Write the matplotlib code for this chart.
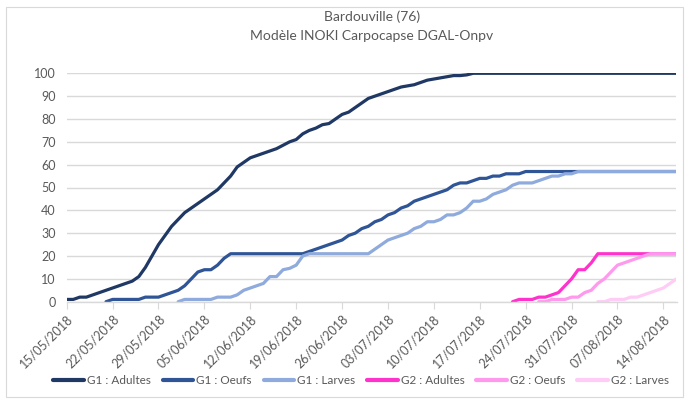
import matplotlib
matplotlib.use("Agg")
import matplotlib.pyplot as plt
from matplotlib.patches import Rectangle
import numpy as np
import pandas as pd

plt.rcParams['font.family'] = ['Lato', 'DejaVu Sans']

title_lines = ["Bardouville (76)", "Modèle INOKI Carpocapse DGAL-Onpv"]
first_day = "2018-05-15"
last_day = "2018-08-16"
tick_dates = ["15/05/2018", "22/05/2018", "29/05/2018", "05/06/2018", "12/06/2018",
              "19/06/2018", "26/06/2018", "03/07/2018", "10/07/2018", "17/07/2018",
              "24/07/2018", "31/07/2018", "07/08/2018", "14/08/2018"]
y_ticks = [0, 10, 20, 30, 40, 50, 60, 70, 80, 90, 100]

series_names = ["G1 : Adultes", "G1 : Oeufs", "G1 : Larves",
                "G2 : Adultes", "G2 : Oeufs", "G2 : Larves"]
series_starts = ["2018-05-15", "2018-05-21", "2018-06-01",
                 "2018-07-22", "2018-07-26", "2018-08-04"]

g1_adultes = [1, 1, 2, 2, 3, 4, 5, 6, 7, 8,
              9, 11, 15, 20, 25, 29, 33, 36, 39, 41,
              43, 45, 47, 49, 52, 55, 59, 61, 63, 64,
              65, 66, 67, 68.5, 70, 71, 73.5, 75, 76, 77.5,
              78, 80, 82, 83, 85, 87, 89, 90, 91, 92,
              93, 94, 94.5, 95, 96, 97, 97.5, 98, 98.5, 99,
              99, 99.3, 100, 100, 100, 100, 100, 100, 100, 100,
              100, 100, 100, 100, 100, 100, 100, 100, 100, 100,
              100, 100, 100, 100, 100, 100, 100, 100, 100, 100,
              100, 100, 100, 100]
g1_oeufs = [0, 1, 1, 1,
            1, 1, 2, 2, 2, 3, 4, 5, 7, 10,
            13, 14, 14, 16, 19, 21, 21, 21, 21, 21,
            21, 21, 21, 21, 21, 21, 21, 22, 23, 24,
            25, 26, 27, 29, 30, 32, 33, 35, 36, 38,
            39, 41, 42, 44, 45, 46, 47, 48, 49, 51,
            52, 52, 53, 54, 54, 55, 55, 56, 56, 56,
            57, 57, 57, 57, 57, 57, 57, 57, 57, 57,
            57, 57, 57, 57, 57, 57, 57, 57, 57, 57,
            57, 57, 57, 57]
g1_larves = [0, 1, 1,
             1, 1, 1, 2, 2, 2, 3, 5, 6, 7,
             8, 11, 11, 14, 14.6, 16, 20, 21, 21, 21,
             21, 21, 21, 21, 21, 21, 21, 23, 25, 27,
             28, 29, 30, 32, 33, 35, 35, 36, 38, 38,
             39, 41, 44, 44, 45, 47, 48, 49, 51, 52,
             52, 52, 53, 54, 55, 55, 56, 56, 57, 57,
             57, 57, 57, 57, 57, 57, 57, 57, 57, 57,
             57, 57, 57, 57]
g2_adultes = [0, 1, 1, 1, 2, 2, 3, 4, 7, 10, 14, 14, 17, 21,
              21, 21, 21, 21, 21, 21, 21, 21, 21, 21, 21, 21]
g2_oeufs = [0, 0, 1, 1, 1, 2, 2, 4, 5, 8, 10, 13, 16, 17, 18, 19, 20, 21,
            21, 21, 21, 21]
g2_larves = [0, 0, 1, 1, 1, 2, 2, 3, 4, 5, 6, 8, 10]

series_values = [g1_adultes, g1_oeufs, g1_larves, g2_adultes, g2_oeufs, g2_larves]
colors = ["#1F3864", "#2F5597", "#8FAADC", "#FF33CC", "#FF99EE", "#FFCCF5"]

W, H = 689, 403
fig = plt.figure(figsize=(W / 100, H / 100), dpi=100)
fig.patches.append(Rectangle((6 / W, 1 - 397 / H), 677 / W, 390 / H,
                             transform=fig.transFigure, fill=False,
                             edgecolor="#D9D9D9", linewidth=0.8))

left, right, top, bottom = 66.7, 676.5, 73.3, 301.7
ax = fig.add_axes([left / W, 1 - bottom / H, (right - left) / W, (bottom - top) / H])

for name, start, vals, col in zip(series_names, series_starts, series_values, colors):
    dates = pd.date_range(start, periods=len(vals), freq="D")
    ax.plot(dates, vals, color=col, lw=2.3, label=name,
            solid_joinstyle="round", solid_capstyle="round")

ax.set_xlim(pd.Timestamp(first_day), pd.Timestamp(last_day))
ax.set_ylim(0, 100)
ax.set_yticks(y_ticks)
ax.yaxis.grid(True, color="#D9D9D9", lw=1)
ax.set_axisbelow(True)
for s in ["top", "right", "left"]:
    ax.spines[s].set_visible(False)
ax.spines["bottom"].set_color("#D9D9D9")
ax.spines["bottom"].set_linewidth(1)

tick_pos = [pd.Timestamp(pd.to_datetime(t, format="%d/%m/%Y")) for t in tick_dates]
ax.set_xticks(tick_pos)
ax.set_xticklabels(tick_dates, rotation=45, ha="right", va="top",
                   rotation_mode="anchor", fontsize=9, color="#595959")
ax.tick_params(axis="x", length=5, color="#D9D9D9", pad=3)
ax.tick_params(axis="y", length=0, labelsize=9, labelcolor="#595959", pad=8)

fig.text(0.5 * (left + right) / W, 1 - 17 / H, title_lines[0], ha="center", va="center",
         fontsize=10, color="#595959")
fig.text(0.5 * (left + right) / W, 1 - 36 / H, title_lines[1], ha="center", va="center",
         fontsize=10, color="#595959")

leg = fig.legend(loc="center", bbox_to_anchor=(361 / W, 1 - 381 / H), ncol=6, frameon=False,
                 fontsize=8.5, handlelength=2.6, columnspacing=1.0, handletextpad=0.25,
                 borderaxespad=0, borderpad=0)
for t in leg.get_texts():
    t.set_color("#595959")
for l in leg.get_lines():
    l.set_linewidth(3)

fig.savefig("out.png", dpi=100)
